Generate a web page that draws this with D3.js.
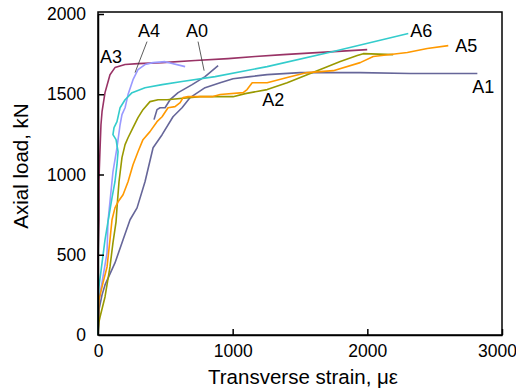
<!DOCTYPE html>
<html><head><meta charset="utf-8">
<script src="https://cdn.jsdelivr.net/npm/d3@7"></script>
<style>
html,body{margin:0;padding:0;background:#fff;}
text{font-family:"Liberation Sans",Arial,Helvetica,sans-serif;fill:#000;}
</style></head>
<body>
<svg id="c" width="516" height="392"></svg>
<script>
// ---- data (strain in microstrain, load in kN) ----
const xTicks = [0, 1000, 2000, 3000];
const yTicks = [0, 500, 1000, 1500, 2000];

const A3_strain = [0,0,0,7,7,15,22,30,52,89,126,201,297,476,721,966,1167,1375,1999];
const A3_load   = [0,218,468,718,967,1154,1310,1391,1510,1622,1666,1685,1691,1697,1710,1722,1735,1747,1778];

const A4_strain = [0,7,37,67,74,111,141,164,178,201,223,260,297,349,409,498,647];
const A4_load   = [0,218,362,512,705,1017,1167,1310,1373,1416,1498,1591,1653,1685,1697,1703,1672];

const A0_strain = [416,438,461,498,535,595,699,795,892];
const A0_load   = [1342,1404,1416,1416,1466,1510,1560,1610,1679];

const A1_strain = [0,7,30,52,126,186,238,290,349,409,476,557,624,684,795,907,1003,1130,1256,1501,1947,2319,2817];
const A1_load   = [0,156,250,312,449,593,718,792,955,1167,1248,1360,1416,1479,1541,1572,1597,1610,1622,1635,1635,1629,1629];

const A2_strain = [0,7,15,52,89,111,134,141,156,178,201,223,260,297,334,386,446,513,758,1003,1093,1256,1405,1553,1702,1799,1925,1970,2192];
const A2_load   = [0,81,112,237,424,574,705,792,955,1105,1186,1229,1292,1354,1404,1454,1466,1466,1485,1485,1504,1529,1572,1622,1672,1704,1741,1753,1747];

const A5_strain = [0,7,37,67,89,104,126,149,186,223,260,297,334,386,438,476,520,572,610,632,669,847,907,1078,1107,1145,1256,1405,1553,1747,1947,2044,2297,2445,2601];
const A5_load   = [0,218,325,424,593,718,792,830,874,955,1061,1142,1217,1267,1329,1360,1416,1423,1448,1479,1485,1485,1498,1510,1529,1572,1572,1604,1635,1647,1697,1735,1760,1785,1803];

const A6_strain = [0,0,7,30,52,74,104,126,141,149,134,111,119,141,164,201,253,349,476,624,870,1256,1747,2304];
const A6_load   = [0,218,300,449,593,705,855,955,1061,1142,1217,1248,1292,1329,1416,1466,1510,1541,1560,1579,1610,1672,1766,1878];

const seriesNames  = ["A3","A4","A0","A1","A2","A5","A6"];
const seriesColors = ["#993366","#9999ff","#666699","#666699","#999900","#ff9900","#33cccc"];
const seriesX = [A3_strain,A4_strain,A0_strain,A1_strain,A2_strain,A5_strain,A6_strain];
const seriesY = [A3_load,A4_load,A0_load,A1_load,A2_load,A5_load,A6_load];

// label anchor positions (data units) and leader lines
const labelNames  = ["A3","A4","A0","A6","A5","A1","A2"];
const labelX      = [97, 379, 736, 2400, 2735, 2861, 1301];
const labelY      = [1735, 1897, 1897, 1897, 1803, 1548, 1466];
const leaderFrom  = [[364,1828],[743,1828]];
const leaderTo    = [[275,1635],[788,1647]];

// ---- drawing ----
const svg = d3.select("#c");
const x = d3.scaleLinear().domain([0,3000]).range([98,502]);
const y = d3.scaleLinear().domain([0,2000]).range([335,14]);

const line = d3.line().x(d=>x(d[0])).y(d=>y(d[1]));

seriesNames.forEach((n,i)=>{
  const pts = seriesX[i].map((v,j)=>[v, seriesY[i][j]]);
  svg.append("path").datum(pts)
    .attr("d", line)
    .attr("fill","none")
    .attr("stroke", seriesColors[i])
    .attr("stroke-width",1.6)
    .attr("stroke-linejoin","round");
});

// frame
svg.append("rect")
  .attr("x", x(0)).attr("y", y(2000)-2)
  .attr("width", x(3000)-x(0)).attr("height", y(0)-y(2000)+2)
  .attr("fill","none").attr("stroke","#000").attr("stroke-width",1.5);

// axes with inward ticks
const gx = svg.append("g").attr("transform",`translate(0,${y(0)})`)
  .call(d3.axisBottom(x).tickValues(xTicks).tickFormat(d3.format("d")).tickSizeInner(-6).tickSizeOuter(0).tickPadding(10));
const gy = svg.append("g").attr("transform",`translate(${x(0)},0)`)
  .call(d3.axisLeft(y).tickValues(yTicks).tickFormat(d3.format("d")).tickSizeInner(-6).tickSizeOuter(0).tickPadding(12));
[gx,gy].forEach(g=>{
  g.select(".domain").attr("stroke","#000").attr("stroke-width",1.5);
  g.selectAll(".tick line").attr("stroke","#000").attr("stroke-width",1.5);
  g.selectAll(".tick text").attr("font-size",17.5).attr("font-family","Liberation Sans, Arial, sans-serif").attr("fill","#000");
});
gx.selectAll(".tick").filter(d=>d===0).select("line").remove();
gy.selectAll(".tick").filter(d=>d===0).select("line").remove();
gx.selectAll(".tick").filter(d=>d===3000).select("text").attr("dx",-5);

// axis titles
svg.append("text").attr("x",(x(0)+x(3000))/2+3).attr("y",384)
  .attr("text-anchor","middle").attr("font-size",20.5).text("Transverse strain, με");
svg.append("text").attr("transform",`translate(28,166) rotate(-90)`)
  .attr("text-anchor","middle").attr("font-size",20.5).text("Axial load, kN");

// series labels
labelNames.forEach((n,i)=>{
  svg.append("text").attr("x",x(labelX[i])).attr("y",y(labelY[i]))
    .attr("dy","0.36em").attr("text-anchor","middle").attr("font-size",18).text(n);
});
leaderFrom.forEach((p,i)=>{
  svg.append("line")
    .attr("x1",x(p[0])).attr("y1",y(p[1]))
    .attr("x2",x(leaderTo[i][0])).attr("y2",y(leaderTo[i][1]))
    .attr("stroke","#333").attr("stroke-width",0.8);
});
</script>
</body></html>
